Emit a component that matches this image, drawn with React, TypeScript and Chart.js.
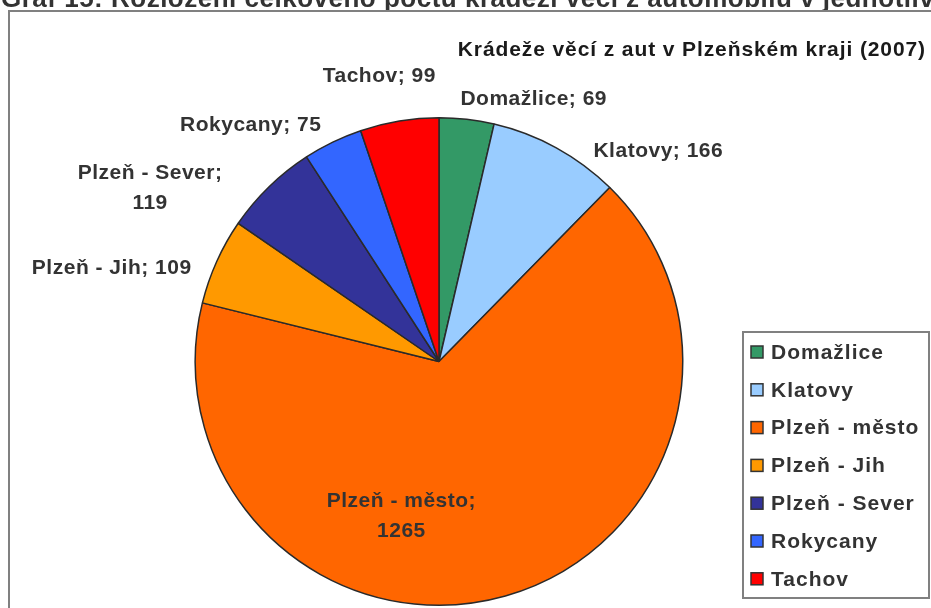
import React, { useEffect, useRef } from "react";
import { Chart, registerables } from "chart.js";

Chart.register(...registerables);

// ---- data ----
const categories = [
  "Domažlice",
  "Klatovy",
  "Plzeň - město",
  "Plzeň - Jih",
  "Plzeň - Sever",
  "Rokycany",
  "Tachov",
];
const values = [69, 166, 1265, 109, 119, 75, 99];
const colors = ["#339966", "#99CCFF", "#FF6600", "#FF9900", "#333399", "#3366FF", "#FF0000"];
const chartTitle = "Krádeže věcí z aut v Plzeňském kraji (2007)";
const pageTitle = "Graf 15: Rozložení celkového počtu krádeží věcí z automobilů v jednotlivých okresech";
// categories whose data label wraps onto two lines
const wrappedLabels = ["Plzeň - město", "Plzeň - Sever"];

// ---- label layout (offset of label centre from slice's outer mid point) ----
const labelOffsets: [number, number][] = [
  [67, -21],
  [102, 2],
  [-104, -81],
  [-105, 6],
  [-119, 0],
  [-82, -18],
  [-20, -46],
];

const FONT = "'Liberation Sans', Arial, sans-serif";
const TEXT = "#333333";

const decoPlugin = {
  id: "deco",
  beforeDraw(chart: any) {
    const ctx = chart.ctx as any;
    ctx.save();
    ctx.fillStyle = "#ffffff";
    ctx.fillRect(0, 0, chart.width, chart.height);
    // cut-off page caption above the chart frame
    ctx.fillStyle = TEXT;
    ctx.font = `bold 26px ${FONT}`;
    ctx.letterSpacing = "0.5px";
    ctx.textAlign = "left";
    ctx.textBaseline = "alphabetic";
    ctx.fillText(pageTitle, 1, 7);
    // chart frame
    ctx.strokeStyle = "#808080";
    ctx.lineWidth = 2;
    ctx.strokeRect(9, 11, chart.width + 40, chart.height + 40);
    // chart title
    ctx.fillStyle = "#1a1a1a";
    ctx.font = `bold 21px ${FONT}`;
    ctx.letterSpacing = "0.9px";
    ctx.textAlign = "right";
    ctx.fillText(chartTitle, 926, 56);
    ctx.restore();
  },
  afterDatasetsDraw(chart: any) {
    const ctx = chart.ctx as any;
    const meta = chart.getDatasetMeta(0);
    ctx.save();
    ctx.fillStyle = TEXT;
    ctx.font = `bold 21px ${FONT}`;
    ctx.letterSpacing = "0.5px";
    ctx.textAlign = "center";
    ctx.textBaseline = "middle";
    meta.data.forEach((arc: any, i: number) => {
      const { x, y, startAngle, endAngle, outerRadius } = arc.getProps(
        ["x", "y", "startAngle", "endAngle", "outerRadius"],
        true
      );
      const mid = (startAngle + endAngle) / 2;
      const ax = x + Math.cos(mid) * outerRadius + labelOffsets[i][0];
      const ay = y + Math.sin(mid) * outerRadius + labelOffsets[i][1];
      const lines = wrappedLabels.includes(categories[i])
        ? [categories[i] + ";", String(values[i])]
        : [categories[i] + "; " + values[i]];
      const lh = 30;
      const y0 = ay - ((lines.length - 1) * lh) / 2;
      lines.forEach((t, k) => ctx.fillText(t, ax, y0 + k * lh + 1));
    });
    ctx.restore();
  },
  afterDraw(chart: any) {
    const ctx = chart.ctx as any;
    ctx.save();
    // legend frame
    ctx.strokeStyle = "#808080";
    ctx.lineWidth = 2;
    ctx.strokeRect(743, 332, 186, 266);
    ctx.font = `bold 21px ${FONT}`;
    ctx.letterSpacing = "1px";
    ctx.textAlign = "left";
    ctx.textBaseline = "middle";
    categories.forEach((c, i) => {
      const cy = 352 + i * 37.8;
      ctx.fillStyle = colors[i];
      ctx.fillRect(751, cy - 6, 12, 12);
      ctx.strokeStyle = "#333333";
      ctx.lineWidth = 1.5;
      ctx.strokeRect(751, cy - 6, 12, 12);
      ctx.fillStyle = TEXT;
      ctx.fillText(c, 771, cy + 1);
    });
    ctx.restore();
  },
};

export default function App() {
  const ref = useRef<HTMLCanvasElement>(null);
  useEffect(() => {
    if (!ref.current) return;
    const chart = new Chart(ref.current, {
      type: "pie",
      data: {
        labels: categories,
        datasets: [
          {
            data: values,
            backgroundColor: colors,
            borderColor: "#2a2a2a",
            borderWidth: 1.5,
          },
        ],
      },
      options: {
        responsive: false,
        devicePixelRatio: 1,
        animation: false,
        layout: { padding: { left: 194, top: 117, right: 247, bottom: 2 } },
        plugins: {
          legend: { display: false },
          tooltip: { enabled: false },
          title: { display: false },
        },
      },
      plugins: [decoPlugin],
    });
    return () => chart.destroy();
  }, []);
  return (
    <div style={{ position: "absolute", left: 0, top: 0, width: 931, height: 608 }}>
      <canvas ref={ref} width={931} height={608} style={{ display: "block" }} />
    </div>
  );
}
